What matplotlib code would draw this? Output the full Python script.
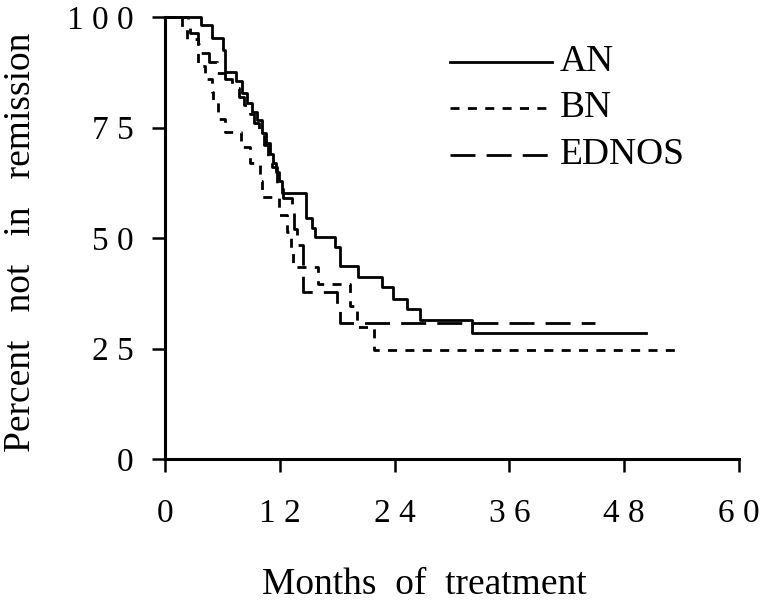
import matplotlib
matplotlib.use("Agg")
import matplotlib.pyplot as plt

plt.rcParams["font.family"] = ["Liberation Serif", "DejaVu Serif"]
plt.rcParams["lines.scale_dashes"] = False

# Kaplan-Meier style step data: month of each step and percent after it
an_months = [0, 3.8, 4.9, 6.1, 6.3, 7.4, 8.0, 8.6, 9.1, 9.6, 10.1, 10.6, 11.0, 11.3,
             11.6, 11.9, 12.2, 14.7, 15.4, 15.7, 17.8, 18.3, 20.2, 22.7, 23.8, 25.3,
             26.7, 32.1, 50.3]
an_pct = [100, 98.2, 95.2, 92.5, 87.6, 85.5, 82.8, 80.5, 78.5, 76.7, 73.7, 71.5, 69,
          67, 65, 63, 60.2, 54.5, 52.3, 50.2, 48, 43.7, 41.2, 38.9, 36.2, 33.9, 31.4,
          28.5, 28.5]

bn_months = [0, 1.8, 2.3, 3.4, 3.5, 4.2, 4.9, 5.0, 5.5, 6.3, 7.9, 8.9, 9.9, 10.1,
             11.9, 12.7, 13.2, 13.4, 16.0, 19.3, 20.1, 21.8, 54.0]
bn_pct = [100, 97.7, 95, 92, 89, 86, 83, 81, 77, 74, 70.6, 67, 63, 59.3, 55.2, 51.4,
          47.3, 43.4, 39.5, 34.6, 29.9, 24.7, 24.7]

ed_months = [0, 2.4, 2.6, 3.4, 3.6, 4.6, 5.4, 6.3, 7.0, 7.7, 8.3, 8.9, 9.3, 9.8, 10.3,
             10.8, 11.2, 11.7, 12.3, 13.3, 13.5, 13.8, 14.4, 18.0, 18.3, 45.0]
ed_pct = [100, 97.5, 96.3, 94, 91.8, 89.8, 87.3, 86, 84, 82, 80, 78, 76, 74, 71, 68,
          66, 62.4, 59, 56, 52, 48.4, 37.8, 34.4, 30.8, 30.8]

series = [
    ("AN", an_months, an_pct, "-"),
    ("BN", bn_months, bn_pct, (0, (6.5, 6))),
    ("EDNOS", ed_months, ed_pct, (0, (18, 8))),
]

x_ticks = [0, 12, 24, 36, 48, 60]
y_ticks = [0, 25, 50, 75, 100]

fig = plt.figure(figsize=(7.65, 6.1), dpi=100)
ax = fig.add_axes([0.2157, 0.2475, 0.7503, 0.7245])

for name, months, pct, ls in series:
    ax.step(months, pct, where="post", color="black", linewidth=2.0,
            linestyle=ls, clip_on=False)

ax.set_xlim(0, 60)
ax.set_ylim(0, 100)
ax.set_xticks(x_ticks)
ax.set_yticks(y_ticks)
ax.set_xticklabels([" ".join(str(v)) for v in x_ticks])
ax.set_yticklabels([" ".join(str(v)) for v in y_ticks])

for side in ("top", "right"):
    ax.spines[side].set_visible(False)
for side in ("left", "bottom"):
    ax.spines[side].set_linewidth(2.2)

ax.tick_params(axis="both", direction="out", length=9.5, width=1.8,
               labelsize=24, color="black")
ax.tick_params(axis="x", pad=19)
ax.tick_params(axis="y", pad=13)

ax.set_xlabel("Months  of  treatment", fontsize=27)
ax.set_ylabel("Percent   not   in   remission", fontsize=27)
ax.xaxis.set_label_coords(0.451, -0.245)
ax.yaxis.set_label_coords(-0.222, 0.49)

# legend drawn by hand: short sample line then label
leg_y = [0.898, 0.794, 0.688]
for (name, months, pct, ls), yy in zip(series, leg_y):
    ax.plot([0.4965, 0.674], [yy, yy], transform=ax.transAxes, color="black",
            linewidth=2.0, linestyle=ls)
    ax.text(0.688, yy, name, transform=ax.transAxes, fontsize=27,
            va="center", ha="left")

fig.savefig("out.png", dpi=100)
